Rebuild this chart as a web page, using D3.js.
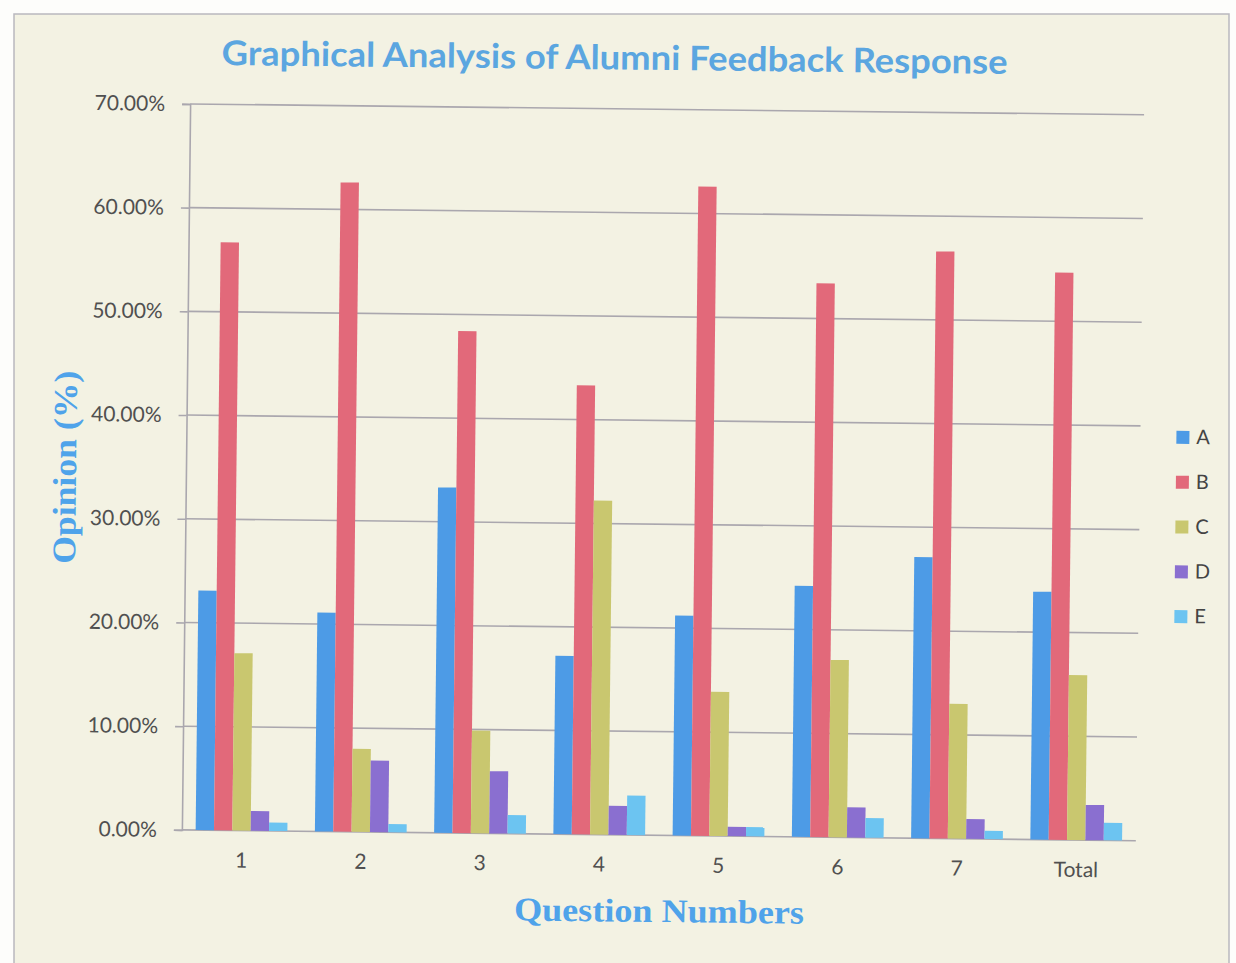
<!DOCTYPE html>
<html>
<head>
<meta charset="utf-8">
<script src="https://cdn.jsdelivr.net/npm/d3@7"></script>
<style>
  html, body { margin: 0; padding: 0; background: #fdfdfb; }
  svg { display: block; }
</style>
</head>
<body>
<svg id="chart" width="1236" height="963"></svg>
<script>
// ---------- data ----------
const categories = ["1", "2", "3", "4", "5", "6", "7", "Total"];
const seriesNames = ["A", "B", "C", "D", "E"];
const valuesA = [23.1, 21.1, 33.3, 17.2, 21.2, 24.2, 27.1, 23.9];
const valuesB = [56.7, 62.6, 48.4, 43.3, 62.6, 53.4, 56.6, 54.7];
const valuesC = [17.1, 8.0, 9.9, 32.2, 13.9, 17.1, 13.0, 15.9];
const valuesD = [1.9, 6.9, 6.0, 2.8, 0.9, 2.9, 1.9, 3.4];
const valuesE = [0.8, 0.8, 1.8, 3.8, 0.9, 1.9, 0.8, 1.7];
const yTicks = [0, 10, 20, 30, 40, 50, 60, 70];
const titleText = "Graphical Analysis of Alumni Feedback Response";
const xTitle = "Question Numbers";
const yTitle = "Opinion (%)";

const seriesValues = [valuesA, valuesB, valuesC, valuesD, valuesE];
const colors = ["#4d9be6", "#e2697a", "#c9c76f", "#8a6fd0", "#6cc4f1"];

// ---------- layout ----------
const svg = d3.select("#chart");
const plotLeft = 186, plotRight = 1140, plotTop = 109.3, plotBottom = 835.3;

// scanned page frame
svg.append("rect")
  .attr("x", 14).attr("y", 14).attr("width", 1215).attr("height", 960)
  .attr("fill", "#f3f2e3").attr("stroke", "#b9b8bf").attr("stroke-width", 1.5);

// the scan is slightly tilted
const g = svg.append("g").attr("transform", "rotate(0.65, 660, 470)");

const x0 = d3.scaleBand().domain(categories).range([plotLeft, plotRight])
  .paddingInner(0.2308).paddingOuter(0.1154);
const x1 = d3.scaleBand().domain(seriesNames).range([0, x0.bandwidth()]).padding(0);
const y = d3.scaleLinear().domain([0, 70]).range([plotBottom, plotTop]);

// gridlines
g.append("g").selectAll("line").data(yTicks).join("line")
  .attr("x1", plotLeft).attr("x2", plotRight)
  .attr("y1", d => y(d)).attr("y2", d => y(d))
  .attr("stroke", "#aaa7ae").attr("stroke-width", 1.6);

// y axis
const yAxis = g.append("g").attr("transform", `translate(${plotLeft},0)`)
  .call(d3.axisLeft(y).tickValues(yTicks).tickSize(8).tickPadding(17)
    .tickFormat(d => d.toFixed(2) + "%"));
yAxis.select(".domain").attr("stroke", "#aaa7ae").attr("stroke-width", 1.6);
yAxis.selectAll(".tick line").attr("stroke", "#aaa7ae").attr("stroke-width", 1.6);
yAxis.selectAll(".tick text").attr("fill", "#505050")
  .style("font-family", "Lato, 'Open Sans', sans-serif").style("font-size", "21px");

// x axis labels
const xAxis = g.append("g").attr("transform", `translate(0,${plotBottom})`)
  .call(d3.axisBottom(x0).tickSize(0).tickPadding(22));
xAxis.select(".domain").remove();
xAxis.selectAll(".tick text").attr("fill", "#505050")
  .style("font-family", "Lato, 'Open Sans', sans-serif").style("font-size", "21px");

// bars
const groups = g.append("g").selectAll("g").data(categories).join("g")
  .attr("transform", d => `translate(${x0(d)},0)`);
groups.selectAll("rect")
  .data((c, i) => seriesNames.map((s, k) => ({ s, k, v: seriesValues[k][i] })))
  .join("rect")
  .attr("x", d => x1(d.s))
  .attr("width", x1.bandwidth())
  .attr("y", d => y(d.v))
  .attr("height", d => y(0) - y(d.v))
  .attr("fill", d => colors[d.k]);

// title
g.append("text")
  .attr("x", 610).attr("y", 70).attr("text-anchor", "middle")
  .attr("fill", "#5ba6e0")
  .style("font-family", "Lato, 'Open Sans', sans-serif")
  .style("font-weight", "700").style("font-size", "34px")
  .attr("textLength", 786).attr("lengthAdjust", "spacingAndGlyphs")
  .text(titleText);

// x title
g.append("text")
  .attr("x", 664).attr("y", 922).attr("text-anchor", "middle")
  .attr("fill", "#4fa3ea")
  .style("font-family", "'Liberation Serif', 'DejaVu Serif', serif")
  .style("font-weight", "700").style("font-size", "33px")
  .attr("textLength", 290).attr("lengthAdjust", "spacingAndGlyphs")
  .text(xTitle);

// y title
g.append("text")
  .attr("transform", "translate(76,474) rotate(-90)")
  .attr("text-anchor", "middle")
  .attr("fill", "#4fa3ea")
  .style("font-family", "'Liberation Serif', 'DejaVu Serif', serif")
  .style("font-weight", "700").style("font-size", "33px")
  .attr("textLength", 193).attr("lengthAdjust", "spacingAndGlyphs")
  .text(yTitle);

// legend
const legend = g.append("g").attr("transform", "translate(1176,431)");
const items = legend.selectAll("g").data(seriesNames).join("g")
  .attr("transform", (d, i) => `translate(0,${i * 44.8})`);
items.append("rect").attr("x", 0).attr("y", -6).attr("width", 13).attr("height", 13)
  .attr("fill", (d, i) => colors[i]);
items.append("text").attr("x", 20).attr("y", 0).attr("dy", "0.35em")
  .attr("fill", "#444444")
  .style("font-family", "Lato, 'Open Sans', sans-serif").style("font-size", "20px")
  .text(d => d);
</script>
</body>
</html>
